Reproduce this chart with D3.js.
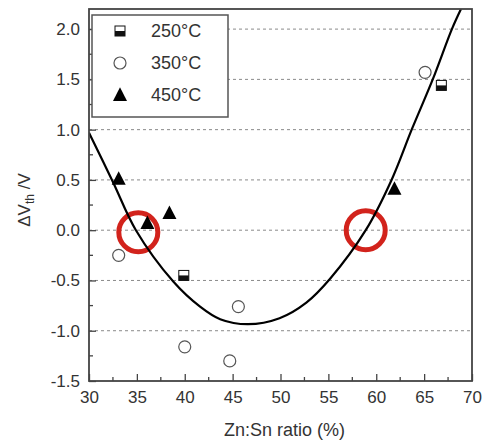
<!DOCTYPE html>
<html>
<head>
<meta charset="utf-8">
<script src="https://cdn.jsdelivr.net/npm/d3@7"></script>
<style>
  html, body { margin: 0; padding: 0; background: #fff; }
  svg { display: block; font-family: "Liberation Sans", Arial, sans-serif; }
</style>
</head>
<body>
<svg id="chart" width="487" height="441"></svg>
<script>
// Measured threshold-voltage shift vs. Zn:Sn ratio for three anneal temperatures
const series250 = [ { x: 39.9, y: -0.45 }, { x: 66.8, y: 1.44 } ];
const series350 = [ { x: 33.1, y: -0.25 }, { x: 40.0, y: -1.16 }, { x: 44.7, y: -1.30 },
                    { x: 45.6, y: -0.76 }, { x: 65.1, y: 1.57 } ];
const series450 = [ { x: 33.1, y: 0.51 }, { x: 36.1, y: 0.07 }, { x: 38.4, y: 0.17 },
                    { x: 61.9, y: 0.41 } ];

// Fitted trend line
const fitX = [30, 32.5, 34.9, 38.8, 41.6, 43.7, 46.6, 49.9, 52.7, 55.2, 58.9, 61.6, 63.7, 65.9, 67.9, 68.85];
const fitY = [0.97, 0.48, 0, -0.51, -0.76, -0.885, -0.935, -0.875, -0.72, -0.48, 0, 0.5, 1.0, 1.5, 2.0, 2.2];

// Zero-crossings of the fit, highlighted
const crossings = [ { x: 35.15, y: -0.02 }, { x: 58.9, y: 0 } ];

const legendLabels = ["250°C", "350°C", "450°C"];
const xTicks = [30, 35, 40, 45, 50, 55, 60, 65, 70];
const yTicks = [-1.5, -1.0, -0.5, 0.0, 0.5, 1.0, 1.5, 2.0];
const gridY = [-1.0, -0.5, 0.0, 0.5, 1.0, 1.5, 2.0];

const svg = d3.select("#chart");
const W = 487, H = 441;
const m = { left: 89, right: 15, top: 9, bottom: 60 };
const iw = W - m.left - m.right, ih = H - m.top - m.bottom;

const x = d3.scaleLinear().domain([30, 70]).range([m.left, m.left + iw]);
const y = d3.scaleLinear().domain([-1.5, 2.2]).range([m.top + ih, m.top]);

const textColor = "#333";
const axisColor = "#444";

svg.append("defs").append("clipPath").attr("id", "plot-clip")
  .append("rect").attr("x", m.left).attr("y", m.top).attr("width", iw).attr("height", ih);

// Dashed horizontal grid
svg.append("g").selectAll("line").data(gridY).join("line")
  .attr("x1", m.left).attr("x2", m.left + iw)
  .attr("y1", d => y(d)).attr("y2", d => y(d))
  .attr("stroke", "#8a8a8a").attr("stroke-width", 1).attr("stroke-dasharray", "3,3");

// Red highlight rings
svg.append("g").selectAll("circle").data(crossings).join("circle")
  .attr("cx", d => x(d.x)).attr("cy", d => y(d.y)).attr("r", 19.5)
  .attr("fill", "none").attr("stroke", "#d2231c").attr("stroke-width", 5);

// Fit curve
const fitData = fitX.map((v, i) => ({ x: v, y: fitY[i] }));
svg.append("path").datum(fitData)
  .attr("clip-path", "url(#plot-clip)")
  .attr("d", d3.line().x(d => x(d.x)).y(d => y(d.y)).curve(d3.curveCatmullRom.alpha(0.5)))
  .attr("fill", "none").attr("stroke", "#000").attr("stroke-width", 2.2);

// Marker drawers
function drawSquare(g, cx, cy, s) {
  g.append("rect").attr("x", cx - s / 2).attr("y", cy - s / 2).attr("width", s).attr("height", s)
    .attr("fill", "#fff").attr("stroke", "#111").attr("stroke-width", 1);
  g.append("rect").attr("x", cx - s / 2).attr("y", cy).attr("width", s).attr("height", s / 2)
    .attr("fill", "#111");
}
function drawCircle(g, cx, cy, r) {
  g.append("circle").attr("cx", cx).attr("cy", cy).attr("r", r)
    .attr("fill", "#fff").attr("stroke", "#555").attr("stroke-width", 1.2);
}
function drawTriangle(g, cx, cy, s) {
  g.append("path")
    .attr("d", `M${cx},${cy - s * 0.55} L${cx + s / 2},${cy + s * 0.42} L${cx - s / 2},${cy + s * 0.42} Z`)
    .attr("fill", "#000");
}

const marks = svg.append("g");
series350.forEach(d => drawCircle(marks, x(d.x), y(d.y), 6));
series250.forEach(d => drawSquare(marks, x(d.x), y(d.y), 10));
series450.forEach(d => drawTriangle(marks, x(d.x), y(d.y), 14));

// Axes with inward ticks
const xAxis = d3.axisBottom(x).tickValues(xTicks).tickSize(-7).tickPadding(10).tickFormat(d3.format("d"));
const yAxis = d3.axisLeft(y).tickValues(yTicks).tickSize(-7).tickPadding(9).tickFormat(d3.format(".1f"));

const gx = svg.append("g").attr("transform", `translate(0,${m.top + ih})`).call(xAxis);
const gy = svg.append("g").attr("transform", `translate(${m.left},0)`).call(yAxis);
[gx, gy].forEach(g => {
  g.select(".domain").remove();
  g.selectAll(".tick line").attr("stroke", axisColor).attr("stroke-width", 1.3);
  g.selectAll(".tick text").attr("fill", textColor).attr("font-size", 17)
    .attr("font-family", "Liberation Sans, Arial, sans-serif");
});
gy.selectAll(".tick text").text(d => d3.format(".1f")(d).replace("−", "-"));

// Minor ticks
const minorX = d3.range(32.5, 70, 5);
const minorY = d3.range(-1.25, 2.2, 0.5);
svg.append("g").selectAll("line").data(minorX).join("line")
  .attr("x1", d => x(d)).attr("x2", d => x(d))
  .attr("y1", m.top + ih).attr("y2", m.top + ih - 4)
  .attr("stroke", axisColor).attr("stroke-width", 1.3);
svg.append("g").selectAll("line").data(minorY).join("line")
  .attr("x1", m.left).attr("x2", m.left + 4)
  .attr("y1", d => y(d)).attr("y2", d => y(d))
  .attr("stroke", axisColor).attr("stroke-width", 1.3);

// Plot frame
svg.append("rect").attr("x", m.left).attr("y", m.top).attr("width", iw).attr("height", ih)
  .attr("fill", "none").attr("stroke", axisColor).attr("stroke-width", 1.8);

// Legend
const lg = svg.append("g");
lg.append("rect").attr("x", 92).attr("y", 15).attr("width", 136).attr("height", 102)
  .attr("fill", "#fff").attr("stroke", "#555").attr("stroke-width", 1.5);
const rowY = [31, 63, 95];
drawSquare(lg, 120, rowY[0], 10);
drawCircle(lg, 120, rowY[1], 6);
drawTriangle(lg, 120, rowY[2], 14);
lg.selectAll("text").data(legendLabels).join("text")
  .attr("x", 151).attr("y", (d, i) => rowY[i] + 6)
  .attr("font-size", 18).attr("fill", textColor).text(d => d);

// Axis titles
svg.append("text").attr("x", m.left + iw / 2 + 4).attr("y", 436)
  .attr("text-anchor", "middle").attr("font-size", 18).attr("fill", textColor)
  .text("Zn:Sn ratio (%)");

const yt = svg.append("text")
  .attr("transform", "translate(30,200) rotate(-90)")
  .attr("text-anchor", "middle").attr("font-size", 17).attr("fill", textColor);
yt.append("tspan").text("ΔV");
yt.append("tspan").attr("font-size", 12).attr("dy", 4).text("th");
yt.append("tspan").attr("dy", -4).text(" /V");
</script>
</body>
</html>
